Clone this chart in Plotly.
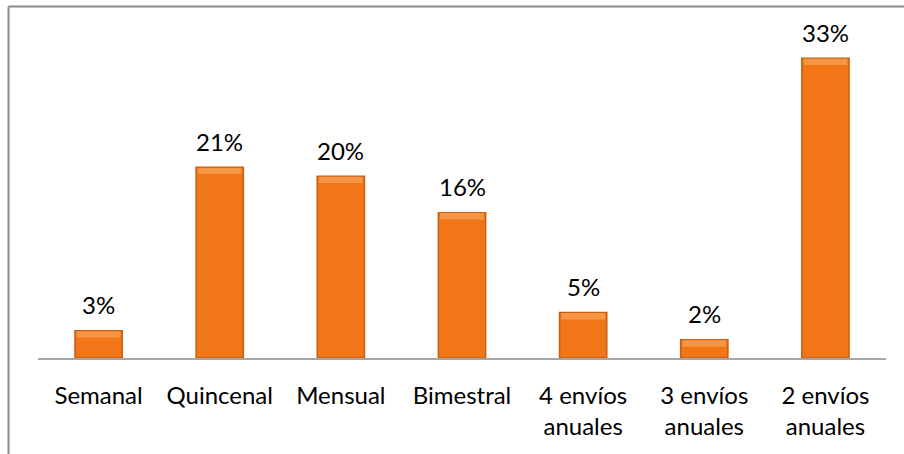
import plotly.graph_objects as go

categories = ["Semanal", "Quincenal", "Mensual", "Bimestral",
              "4 envíos<br>anuales", "3 envíos<br>anuales", "2 envíos<br>anuales"]
values = [0.03, 0.21, 0.20, 0.16, 0.05, 0.02, 0.33]
labels = ["3%", "21%", "20%", "16%", "5%", "2%", "33%"]

W, H = 904, 454
ML, MR, MT, MB = 38, 18, 40, 96
FONT = "Lato"

fig = go.Figure()
# main bars (darker edge gives a bevel feel)
fig.add_trace(go.Bar(
    x=categories, y=values,
    marker=dict(color="#F07618", line=dict(color="#C95E10", width=1.5)),
    width=0.39, hoverinfo="skip",
))
# top bevel highlight
fig.add_trace(go.Bar(
    x=categories, y=[0.007] * len(values), base=[v - 0.0075 for v in values],
    marker=dict(color="#F69644", line=dict(width=0)),
    width=0.36, hoverinfo="skip",
))

for c, v, t in zip(categories, values, labels):
    fig.add_annotation(x=c, y=v, text=t, showarrow=False,
                       yanchor="middle", yshift=26,
                       font=dict(family=FONT, size=24, color="#000000"))

pw = W - ML - MR
ph = H - MT - MB
# outer frame (left and top edges visible)
fig.add_shape(type="line", xref="paper", yref="paper",
              x0=(8.5 - ML) / pw, x1=(8.5 - ML) / pw,
              y0=(H - MB - H - 5) / ph, y1=(H - MB - 6.5) / ph,
              line=dict(color="#8C8C8C", width=2))
fig.add_shape(type="line", xref="paper", yref="paper",
              x0=(8.5 - ML) / pw, x1=(W + 5 - ML) / pw,
              y0=(H - MB - 6.5) / ph, y1=(H - MB - 6.5) / ph,
              line=dict(color="#8C8C8C", width=2))

fig.update_layout(
    width=W, height=H,
    margin=dict(l=ML, r=MR, t=MT, b=MB),
    paper_bgcolor="white", plot_bgcolor="white",
    barmode="overlay", showlegend=False,
    font=dict(family=FONT, size=24, color="#000000"),
)
fig.update_xaxes(showline=True, linecolor="#A6A6A6", linewidth=2,
                 ticks="outside", ticklen=15, tickcolor="rgba(0,0,0,0)",
                 tickfont=dict(family=FONT, size=24, color="#000000"),
                 showgrid=False, zeroline=False)
fig.update_yaxes(range=[0, 0.35], visible=False, showgrid=False, zeroline=False)

fig.write_html("out.html", config={"displayModeBar": False},
               post_script="document.body.style.margin='0';")
